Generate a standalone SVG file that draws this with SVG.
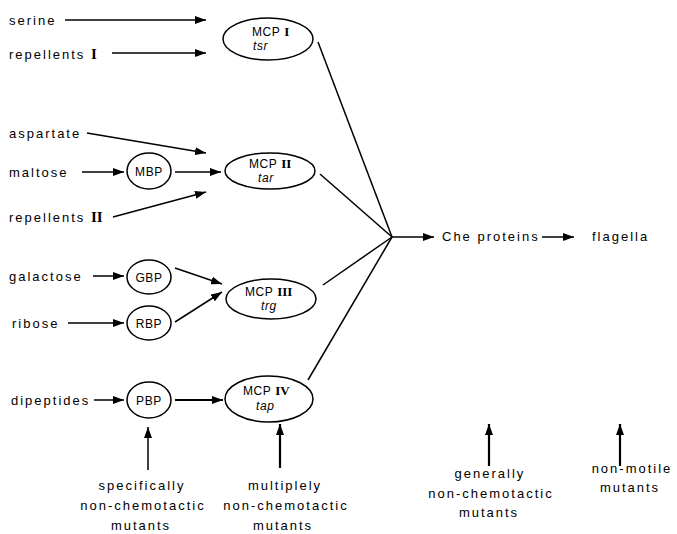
<svg xmlns="http://www.w3.org/2000/svg" width="677" height="534" viewBox="0 0 677 534">
<defs>
<marker id="ah" markerUnits="userSpaceOnUse" markerWidth="11" markerHeight="8" refX="11" refY="4" orient="auto">
<path d="M0,0 L11,4 L0,8 z" fill="#000"/>
</marker>
<style>
.t{font-family:"Liberation Sans",Arial,sans-serif;font-size:13px;letter-spacing:2px;fill:#000}
.m{font-family:"Liberation Sans",Arial,sans-serif;font-size:12px;letter-spacing:0.6px;fill:#000}
.i{font-style:italic}
.r{font-family:"Liberation Serif","Times New Roman",serif;font-weight:bold;letter-spacing:0}
.c{text-anchor:middle}
.n{fill:#fff;stroke:#000;stroke-width:1.5}
.e{fill:none;stroke:#000;stroke-width:1.5;marker-end:url(#ah)}
.l{fill:none;stroke:#000;stroke-width:1.5}
.b{stroke-width:2.2}
</style>
</defs>
<rect width="677" height="534" fill="#fff"/>
<g id="connectors">
<line class="e" x1="65" y1="20" x2="206" y2="20"/>
<line class="e" x1="112" y1="53" x2="206" y2="53"/>
<line class="e" x1="87" y1="133" x2="206" y2="153"/>
<line class="e" x1="82" y1="172" x2="124" y2="172"/>
<line class="e" x1="175" y1="172" x2="221" y2="172"/>
<line class="e" x1="113" y1="217" x2="206" y2="192"/>
<line class="e" x1="93" y1="276" x2="124" y2="276"/>
<line class="e" x1="175" y1="268" x2="222" y2="284"/>
<line class="e" x1="68" y1="323" x2="124" y2="323"/>
<line class="e" x1="175" y1="322" x2="222" y2="292"/>
<line class="e" x1="94" y1="400" x2="124" y2="400"/>
<line class="e b" x1="175" y1="400" x2="223" y2="400"/>
<line class="l" x1="318" y1="42" x2="392" y2="237"/>
<line class="l" x1="320" y1="174" x2="392" y2="237"/>
<line class="l" x1="323" y1="285" x2="392" y2="237"/>
<line class="l" x1="308" y1="380" x2="392" y2="237"/>
<line class="e" x1="391" y1="237" x2="434" y2="237"/>
<line class="e" x1="542" y1="237" x2="574" y2="237"/>
<line class="e" x1="148" y1="470" x2="148" y2="427"/>
<line class="e b" x1="280" y1="468" x2="280" y2="424"/>
<line class="e b" x1="489" y1="466" x2="489" y2="424"/>
<line class="e b" x1="620" y1="466" x2="620" y2="424"/>
</g>
<g id="serine"><text class="t" x="9" y="25">serine</text></g>
<g id="repellents1"><text class="t" x="9" y="59">repellents <tspan class="r" font-size="15">I</tspan></text></g>
<g id="aspartate"><text class="t" x="9" y="138">aspartate</text></g>
<g id="maltose"><text class="t" x="9" y="177">maltose</text></g>
<g id="repellents2"><text class="t" x="9" y="222">repellents <tspan class="r" font-size="15">II</tspan></text></g>
<g id="galactose"><text class="t" x="9" y="281">galactose</text></g>
<g id="ribose"><text class="t" x="12" y="328">ribose</text></g>
<g id="dipeptides"><text class="t" x="11" y="405">dipeptides</text></g>
<g id="MBP"><ellipse class="n" cx="149" cy="171" rx="22" ry="18"/><text class="m c" x="149" y="176" letter-spacing="0">MBP</text></g>
<g id="GBP"><ellipse class="n" cx="149" cy="277" rx="22" ry="17"/><text class="m c" x="149" y="282" letter-spacing="0">GBP</text></g>
<g id="RBP"><ellipse class="n" cx="149" cy="323" rx="22" ry="17"/><text class="m c" x="149" y="328" letter-spacing="0">RBP</text></g>
<g id="PBP"><ellipse class="n" cx="149" cy="400" rx="22" ry="18"/><text class="m c" x="149" y="405" letter-spacing="0">PBP</text></g>
<g id="MCP1"><ellipse class="n" cx="268" cy="39" rx="45" ry="21"/><text class="m" x="252" y="36">MCP <tspan class="r" font-size="13">I</tspan></text><text class="m i" x="253" y="50">tsr</text></g>
<g id="MCP2"><ellipse class="n" cx="270" cy="171" rx="45" ry="18"/><text class="m" x="249" y="168">MCP <tspan class="r" font-size="13">II</tspan></text><text class="m i" x="258" y="182">tar</text></g>
<g id="MCP3"><ellipse class="n" cx="271" cy="299" rx="45" ry="20"/><text class="m" x="245" y="296">MCP <tspan class="r" font-size="13">III</tspan></text><text class="m i" x="261" y="310">trg</text></g>
<g id="MCP4"><ellipse class="n" cx="269" cy="399" rx="44" ry="23"/><text class="m" x="243" y="395">MCP <tspan class="r" font-size="13">IV</tspan></text><text class="m i" x="256" y="410">tap</text></g>
<g id="che"><text class="t" x="442" y="241" letter-spacing="1.4">Che proteins</text></g>
<g id="flagella"><text class="t" x="592" y="241" letter-spacing="1.2">flagella</text></g>
<g id="specifically"><text class="t c" x="142" y="490">specifically</text><text class="t c" x="143" y="510">non-chemotactic</text><text class="t c" x="141" y="530">mutants</text></g>
<g id="multiplely"><text class="t c" x="285" y="490">multiplely</text><text class="t c" x="286" y="510">non-chemotactic</text><text class="t c" x="283" y="530">mutants</text></g>
<g id="generally"><text class="t c" x="490" y="478">generally</text><text class="t c" x="491" y="498">non-chemotactic</text><text class="t c" x="489" y="517">mutants</text></g>
<g id="nonmotile"><text class="t c" x="632" y="473">non-motile</text><text class="t c" x="630" y="492">mutants</text></g>
</svg>
